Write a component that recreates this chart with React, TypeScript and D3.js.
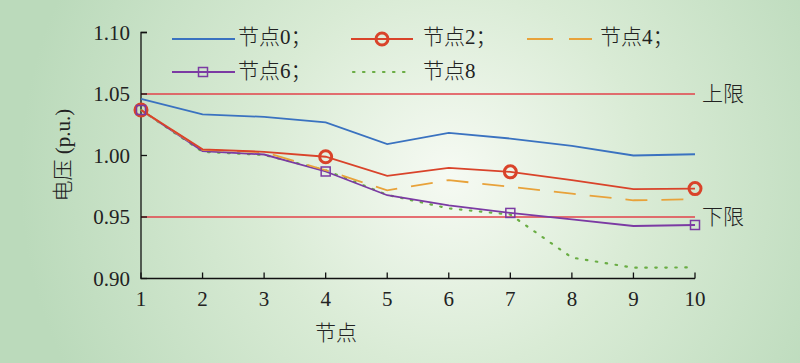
import React from "react";
import * as d3 from "d3";

const nodes = [1, 2, 3, 4, 5, 6, 7, 8, 9, 10];
const node0 = [1.046, 1.0334, 1.0314, 1.027, 1.0092, 1.0184, 1.0138, 1.0078, 1.0, 1.001];
const node2 = [1.037, 1.005, 1.003, 0.999, 0.9834, 0.99, 0.9867, 0.98, 0.9726, 0.9731];
const node4 = [1.037, 1.0045, 1.0027, 0.988, 0.9717, 0.98, 0.9745, 0.969, 0.9636, 0.9644];
const node6 = [1.037, 1.0035, 1.0008, 0.987, 0.9677, 0.9595, 0.9533, 0.948, 0.9427, 0.9435];
const node8 = [1.037, 1.003, 1.0005, 0.988, 0.968, 0.957, 0.952, 0.917, 0.9088, 0.909];
const markerNodes = [1, 4, 7, 10];
const yTicks = [0.9, 0.95, 1.0, 1.05, 1.1];
const upperLimit = 1.05;
const lowerLimit = 0.95;

const W = 800, H = 363;
const SERIF = { fontFamily: '"Liberation Serif", "Times New Roman", "DejaVu Serif", serif' };
const CJK = { fontFamily: '"Liberation Serif", "Noto Sans CJK SC", sans-serif', fontWeight: 300 };

export default function App() {
  const x = d3.scaleLinear().domain([1, 10]).range([141, 695]);
  const y = d3.scaleLinear().domain([0.9, 1.1]).range([278.5, 32.5]);
  const line = (vals: number[]) =>
    d3.line<number>().x((_, i) => x(nodes[i])).y((v) => y(v))(vals) as string;

  const c0 = "#3a72c0", c2 = "#d9432a", c4 = "#e8a23a", c6 = "#7b3aa3", c8 = "#6aad44";
  const limitColor = "#e2424a";

  return (
    <svg width={W} height={H} style={{ position: "absolute", left: 0, top: 0 }}>
      <defs>
        <radialGradient id="bg" cx="450" cy="175" r="430" gradientUnits="userSpaceOnUse">
          <stop offset="0" stopColor="#f6faf3" />
          <stop offset="0.45" stopColor="#d9ebd5" />
          <stop offset="1" stopColor="#bbdabb" />
        </radialGradient>
      </defs>
      <rect x={0} y={0} width={W} height={H} fill="url(#bg)" />

      {/* limit lines */}
      <line x1={x(1)} x2={x(10)} y1={y(upperLimit)} y2={y(upperLimit)} stroke={limitColor} strokeWidth={1.6} />
      <line x1={x(1)} x2={x(10)} y1={y(lowerLimit)} y2={y(lowerLimit)} stroke={limitColor} strokeWidth={1.6} />
      <text x={702} y={y(upperLimit)} dominantBaseline="central" fontSize={21} fill="#222" style={CJK}>上限</text>
      <text x={702} y={y(lowerLimit)} dominantBaseline="central" fontSize={21} fill="#222" style={CJK}>下限</text>

      {/* axes */}
      <path d={`M${x(1) + 6},${y(1.1)}H${x(1)}V${y(0.9)}H${x(10)}`} fill="none" stroke="#111" strokeWidth={1.3} />
      {yTicks.map((t) => (
        <g key={t}>
          <line x1={x(1)} x2={x(1) + 6} y1={y(t)} y2={y(t)} stroke="#111" strokeWidth={1.3} />
          <text x={130} y={y(t)} textAnchor="end" dominantBaseline="central" fontSize={21} fill="#222" style={SERIF}>
            {d3.format(".2f")(t)}
          </text>
        </g>
      ))}
      {nodes.map((n) => (
        <g key={n}>
          <line x1={x(n)} x2={x(n)} y1={y(0.9)} y2={y(0.9) - 6} stroke="#111" strokeWidth={1.3} />
          <text x={x(n)} y={299} textAnchor="middle" dominantBaseline="central" fontSize={21} fill="#222" style={SERIF}>
            {n}
          </text>
        </g>
      ))}
      <text x={336} y={333} textAnchor="middle" dominantBaseline="central" fontSize={21} fill="#222" style={CJK}>节点</text>
      <text transform="translate(63,155) rotate(-90)" textAnchor="middle" dominantBaseline="central" fontSize={21} fill="#222" style={CJK}>
        电压 (p.u.)
      </text>

      {/* series */}
      <path d={line(node8)} fill="none" stroke={c8} strokeWidth={2.2} strokeDasharray="1.5,8.5" strokeLinecap="round" />
      <path d={line(node6)} fill="none" stroke={c6} strokeWidth={1.8} />
      <path d={line(node4)} fill="none" stroke={c4} strokeWidth={1.8} strokeDasharray="22,14" />
      <path d={line(node2)} fill="none" stroke={c2} strokeWidth={1.8} />
      <path d={line(node0)} fill="none" stroke={c0} strokeWidth={1.8} />
      {markerNodes.map((n) => (
        <circle key={"c" + n} cx={x(n)} cy={y(node2[n - 1])} r={6} fill="none" stroke={c2} strokeWidth={3} />
      ))}
      {markerNodes.map((n) => (
        <rect key={"s" + n} x={x(n) - 4.5} y={y(node6[n - 1]) - 4.5} width={9} height={9} fill="none" stroke={c6} strokeWidth={1.5} />
      ))}

      {/* legend */}
      <g fontSize={21} fill="#222" style={CJK}>
        <line x1={172} x2={235} y1={39} y2={39} stroke={c0} strokeWidth={1.8} />
        <text x={238} y={37} dominantBaseline="central">节点0；</text>

        <line x1={351} x2={413} y1={39} y2={39} stroke={c2} strokeWidth={1.8} />
        <circle cx={382} cy={39} r={6} fill="none" stroke={c2} strokeWidth={3} />
        <text x={423} y={37} dominantBaseline="central">节点2；</text>

        <line x1={527} x2={592} y1={39} y2={39} stroke={c4} strokeWidth={1.8} strokeDasharray="26,16" />
        <text x={600} y={37} dominantBaseline="central">节点4；</text>

        <line x1={172} x2={235} y1={72} y2={72} stroke={c6} strokeWidth={1.8} />
        <rect x={203 - 4.5} y={72 - 4.5} width={9} height={9} fill="none" stroke={c6} strokeWidth={1.5} />
        <text x={238} y={71} dominantBaseline="central">节点6；</text>

        <line x1={353} x2={410} y1={72} y2={72} stroke={c8} strokeWidth={2.2} strokeDasharray="1.5,8.5" strokeLinecap="round" />
        <text x={423} y={71} dominantBaseline="central">节点8</text>
      </g>
    </svg>
  );
}
